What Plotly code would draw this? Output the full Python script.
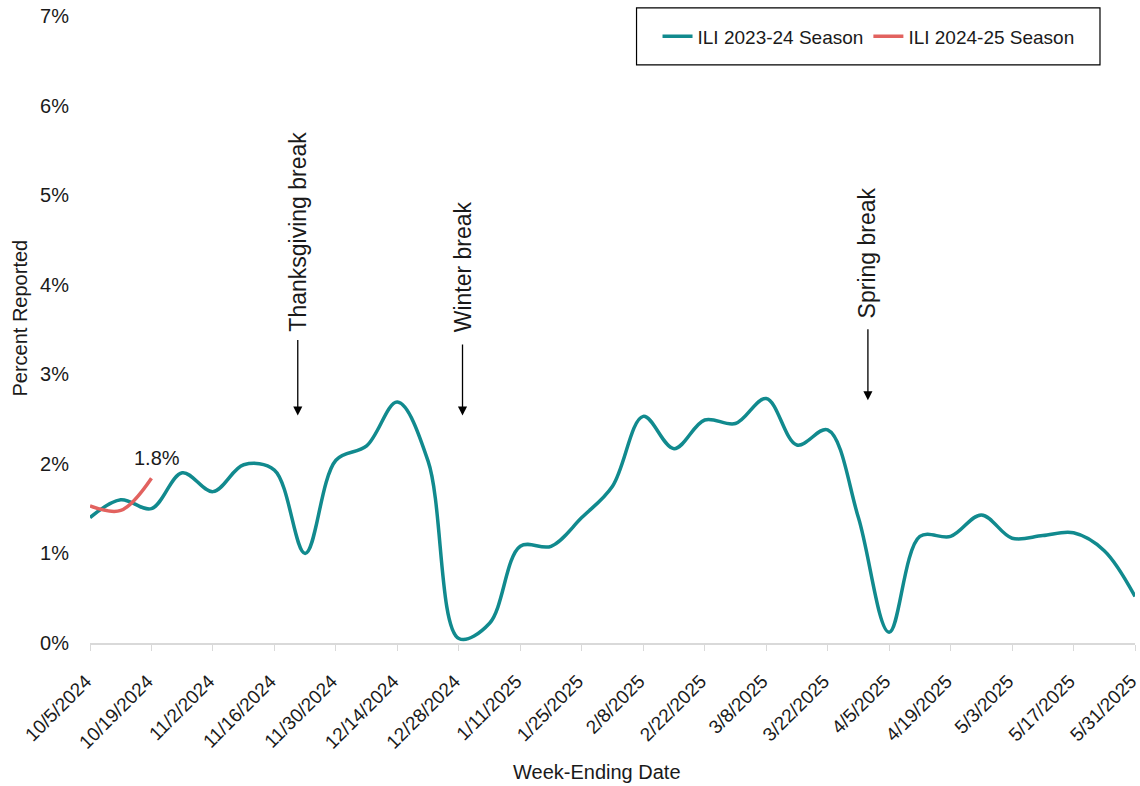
import plotly.graph_objects as go

weeks = ["10/5/2024", "10/12/2024", "10/19/2024", "10/26/2024", "11/2/2024", "11/9/2024",
         "11/16/2024", "11/23/2024", "11/30/2024", "12/7/2024", "12/14/2024", "12/21/2024",
         "12/28/2024", "1/4/2025", "1/11/2025", "1/18/2025", "1/25/2025", "2/1/2025",
         "2/8/2025", "2/15/2025", "2/22/2025", "3/1/2025", "3/8/2025", "3/15/2025",
         "3/22/2025", "3/29/2025", "4/5/2025", "4/12/2025", "4/19/2025", "4/26/2025",
         "5/3/2025", "5/10/2025", "5/17/2025", "5/24/2025", "5/31/2025"]

ili_2023_24 = [1.40, 1.60, 1.50, 1.90, 1.69, 1.99, 1.93, 1.00, 2.04, 2.20, 2.69, 2.03,
               0.05, 0.22, 1.08, 1.08, 1.40, 1.75, 2.53, 2.17, 2.49, 2.45, 2.73, 2.21,
               2.38, 1.40, 0.12, 1.19, 1.19, 1.43, 1.17, 1.20, 1.23, 1.03, 0.52]

ili_2024_25 = [1.53, 1.48, 1.84]

tick_labels = weeks[::2]
y_ticks = [0, 1, 2, 3, 4, 5, 6, 7]
y_tick_text = [f"{v}%" for v in y_ticks]

TEAL = "#118A8E"
RED = "#E2625F"
TXT = "#1a1a1a"
FONT = "Liberation Sans, Arial, sans-serif"

fig = go.Figure()
fig.add_trace(go.Scatter(x=weeks, y=ili_2023_24, mode="lines", name="ILI 2023-24 Season",
                         line=dict(color=TEAL, width=3.5, shape="spline", smoothing=1.0)))
fig.add_trace(go.Scatter(x=weeks[:len(ili_2024_25)], y=ili_2024_25, mode="lines",
                         name="ILI 2024-25 Season",
                         line=dict(color=RED, width=3.5, shape="spline", smoothing=1.0)))

annotations = []
annotations.append(dict(x=weeks[len(ili_2024_25) - 1], y=ili_2024_25[-1],
                        text=f"{ili_2024_25[-1]:.1f}%", showarrow=False,
                        xshift=6, yshift=20, font=dict(size=20, color=TXT, family=FONT)))

breaks = [("Thanksgiving break", 6.76, 4.59, 3.40, 2.54),
          ("Winter break", 12.12, 4.20, 3.35, 2.54),
          ("Spring break", 25.31, 4.36, 3.52, 2.71)]
for label, bx, ty, tail, head in breaks:
    annotations.append(dict(x=bx, y=ty, text=label, textangle=-90, showarrow=False,
                            font=dict(size=23, color=TXT, family=FONT)))
    annotations.append(dict(x=bx, y=head, ax=bx, ay=tail, axref="x", ayref="y",
                            text="", showarrow=True, arrowhead=2, arrowsize=1.4,
                            arrowwidth=1.3, arrowcolor="#000000", standoff=0, startstandoff=0))

annotations.append(dict(x=-0.067, y=0.519, xref="paper", yref="paper", text="Percent Reported",
                        xanchor="center", yanchor="middle",
                        textangle=-90, showarrow=False, font=dict(size=20, color=TXT, family=FONT)))
annotations.append(dict(x=0.485, y=-0.205, xref="paper", yref="paper", text="Week-Ending Date",
                        xanchor="center", yanchor="middle",
                        showarrow=False, font=dict(size=20, color=TXT, family=FONT)))

fig.update_layout(
    width=1140, height=786,
    margin=dict(l=90, r=5, t=16, b=143, autoexpand=False),
    paper_bgcolor="white", plot_bgcolor="white",
    font=dict(family=FONT, size=19, color=TXT),
    showlegend=True,
    legend=dict(orientation="h", x=0.745, y=0.9675, xanchor="center", yanchor="middle",
                bgcolor="rgba(0,0,0,0)", borderwidth=0, font=dict(size=19, color=TXT),
                itemwidth=30),
    shapes=[dict(type="rect", xref="paper", yref="paper", x0=0.523, x1=0.9665, y0=0.922, y1=1.013,
                 line=dict(color="#000000", width=1.2), fillcolor="rgba(0,0,0,0)")],
    annotations=annotations,
    xaxis=dict(type="category", categoryorder="array", categoryarray=weeks,
               range=[0, len(weeks) - 1], tickmode="array", tickvals=tick_labels,
               ticktext=tick_labels, tickangle=-45, ticks="outside", ticklen=6,
               tickcolor="#d9d9d9", showline=True, linecolor="#d9d9d9", linewidth=1.5,
               showgrid=False, zeroline=False, automargin=False, ticklabelstandoff=12,
               ticklabelshift=-4, ticklabeloverflow="allow",
               tickfont=dict(size=19, color=TXT)),
    yaxis=dict(range=[0, 7], tickmode="array", tickvals=y_ticks, ticktext=y_tick_text,
               showgrid=False, zeroline=False, showline=False, ticks="", automargin=False,
               ticklabelstandoff=20, ticklabeloverflow="allow",
               tickfont=dict(size=20, color=TXT)),
)

# remove the browser's default page margin so the figure fills the window exactly
fig.write_html("out.html", config={"displayModeBar": False},
               post_script="document.body.style.margin='0px';")
